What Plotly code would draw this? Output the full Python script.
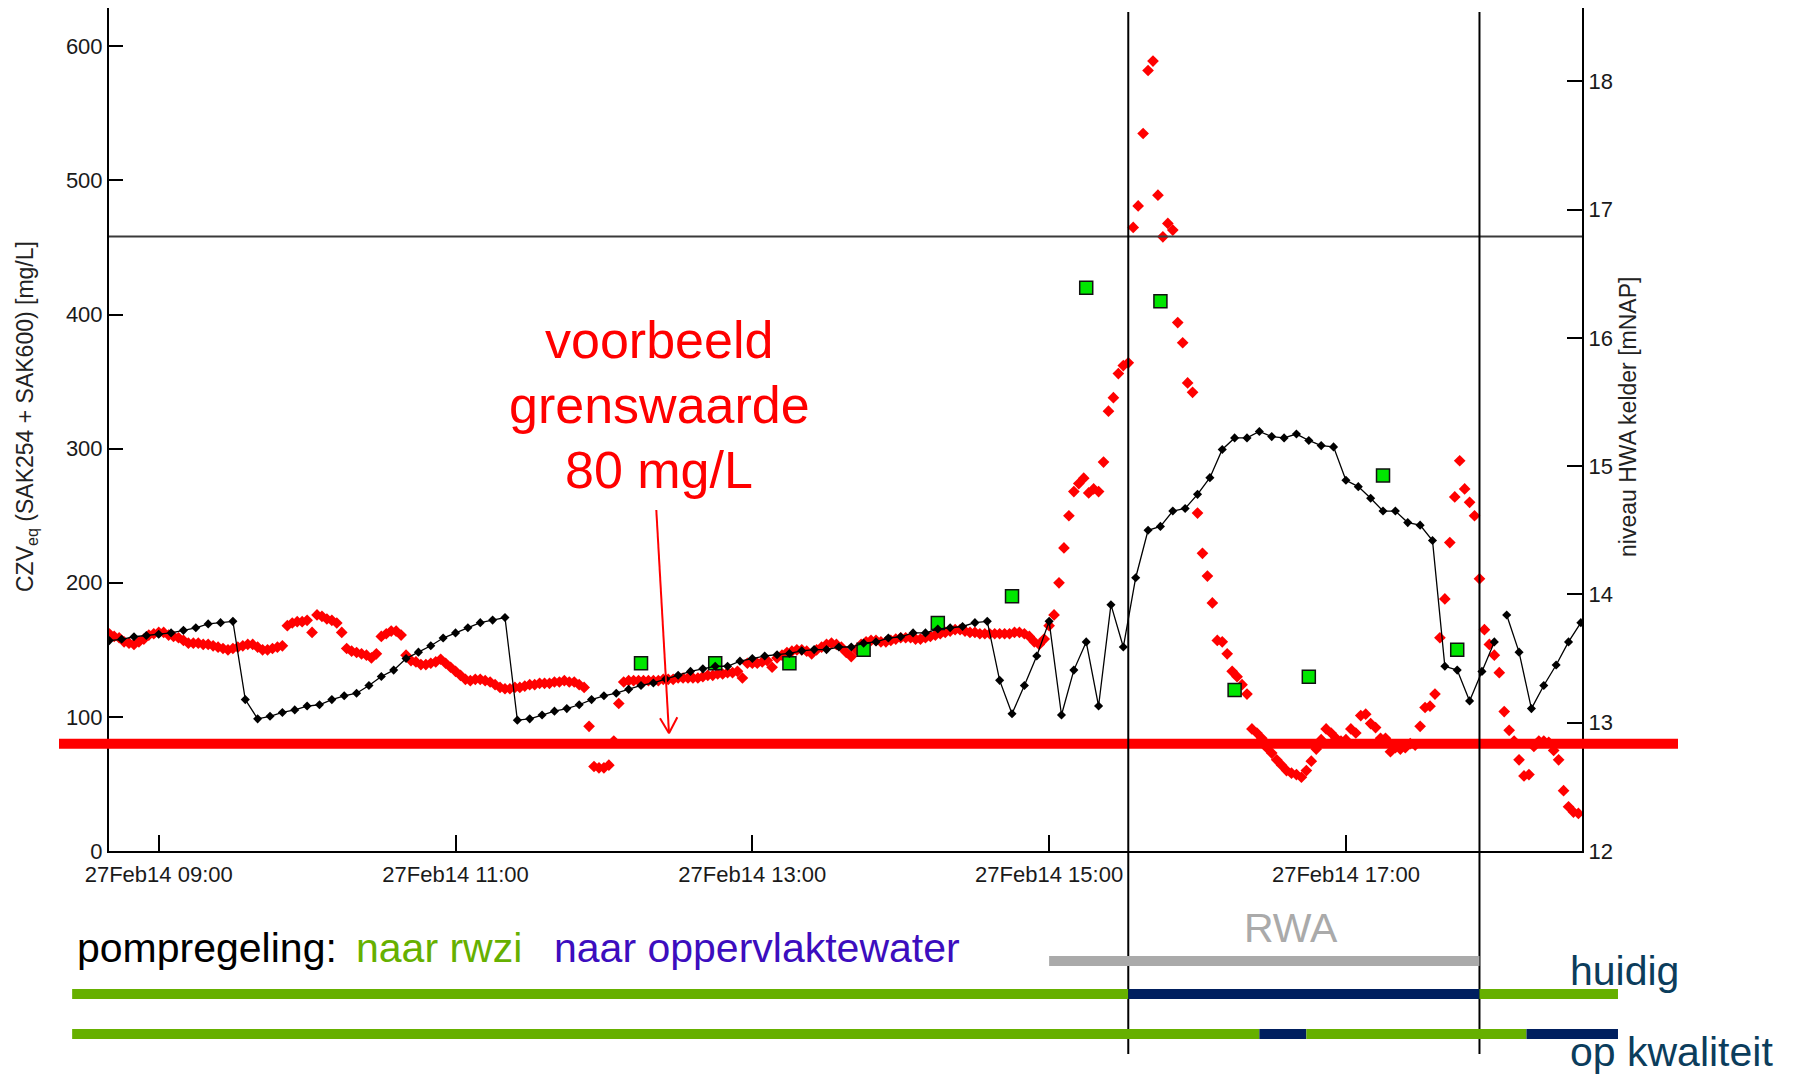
import pandas as pd
import plotly.graph_objects as go

DAG = "2014-02-27 "

# CZV-equivalent from SAK254 + SAK600 (mg/L), one reading every 2 minutes from 08:40
czv_start = DAG + "08:40"
czv_interval = "2min"
czv_mg_l = [
    162, 160, 159, 156, 155, 154, 156, 158, 161, 162, 163, 163, 161, 160, 159,
    157, 155, 155, 155, 154, 154, 153, 152, 151, 150, 151, 152, 153, 154, 154,
    152, 150, 150, 151, 152, 153, 168, 170, 171, 171, 172, 163, 176, 175, 173,
    172, 170, 163, 151, 149, 148, 147, 146, 144, 147, 160, 162, 164, 164, 161,
    146, 142, 141, 139, 139, 140, 141, 143, 140, 137, 134, 131, 128, 127, 128,
    128, 127, 126, 124, 122, 121, 121, 122, 122, 123, 124, 124, 125, 125, 125,
    126, 126, 127, 126, 126, 124, 122, 93, 63, 62, 62, 64, 82, 110, 126,
    127, 127, 127, 127, 127, 127, 127, 128, 128, 128, 129, 129, 129, 129, 129,
    130, 131, 131, 132, 132, 133, 133, 134, 129, 140, 140, 140, 141, 142, 137,
    144, 146, 148, 149, 150, 150, 149, 147, 150, 152, 154, 155, 154, 152, 148,
    145, 150, 154, 156, 157, 157, 156, 156, 157, 158, 159, 159, 159, 158, 158,
    159, 160, 161, 162, 163, 164, 165, 165, 164, 163, 163, 162, 162, 162, 162,
    162, 162, 162, 163, 163, 162, 160, 156, 154, 158, 168, 176, 200, 226, 250,
    268, 274, 278, 267, 270, 268, 290, 328, 338, 356, 362, 364, 465, 481, 535,
    582, 589, 489, 458, 468, 463, 394, 379, 349, 342, 252, 222, 205, 185, 157,
    156, 147, 134, 130, 124, 117, 91, 88, 84, 77, 73, 68, 64, 60, 58,
    57, 55, 60, 67, 76, 83, 91, 88, 84, 82, 83, 91, 88, 101, 102,
    95, 92, 84, 84, 74, 77, 76, 77, 80, 79, 93, 107, 108, 117, 159,
    188, 230, 264, 291, 270, 260, 250, 203, 165, 154, 146, 133, 104, 90, 82,
    68, 56, 57, 78, 82, 82, 81, 75, 68, 45, 33, 29, 28,
]

# level in the HWA cellar (m NAP), one reading every 5 minutes from 08:40
niveau_start = DAG + "08:40"
niveau_interval = "5min"
niveau_mnap = [
    13.64, 13.65, 13.67, 13.68, 13.69, 13.70, 13.72, 13.74, 13.77, 13.78, 13.79, 13.18,
    13.03, 13.05, 13.08, 13.10, 13.13, 13.14, 13.18, 13.21, 13.23, 13.29, 13.36, 13.41,
    13.50, 13.55, 13.60, 13.66, 13.70, 13.74, 13.78, 13.80, 13.82, 13.02, 13.03, 13.06,
    13.09, 13.11, 13.14, 13.18, 13.21, 13.23, 13.26, 13.29, 13.31, 13.34, 13.37, 13.40,
    13.42, 13.44, 13.44, 13.48, 13.50, 13.52, 13.53, 13.54, 13.56, 13.57, 13.57, 13.59,
    13.59, 13.62, 13.63, 13.66, 13.67, 13.70, 13.70, 13.73, 13.74, 13.75, 13.78, 13.79,
    13.33, 13.07, 13.29, 13.52, 13.79, 13.06, 13.41, 13.63, 13.13, 13.92, 13.59, 14.13,
    14.50, 14.53, 14.65, 14.67, 14.78, 14.91, 15.13, 15.22, 15.22, 15.27, 15.23, 15.22,
    15.25, 15.20, 15.16, 15.15, 14.89, 14.84, 14.75, 14.65, 14.65, 14.56, 14.54, 14.42,
    13.44, 13.41, 13.17, 13.40, 13.63, 13.84, 13.55, 13.11, 13.29, 13.45, 13.63, 13.78,
]
niveau_gat_na = DAG + "18:00"  # logger gap between 18:00 and 18:05

# lab samples (mg/L)
monster_tijd = ["12:15", "12:45", "13:15", "13:45", "14:15", "14:45",
                "15:15", "15:45", "16:15", "16:45", "17:15", "17:45"]
monster_czv = [140, 140, 140, 150, 170, 190, 420, 410, 120, 130, 280, 150]

grenswaarde_czv = 80          # example limit (mg/L)
niveau_drempel = 16.79        # level threshold (m NAP)
rwa_start, rwa_eind = "15:32", "17:54"
rwa_balk_start = "15:00"

# pump control: (from, to, destination)
pomp_huidig = [("08:25", "15:32", "rwzi"), ("15:32", "17:54", "opp"), ("17:54", "18:50", "rwzi")]
pomp_op_kwaliteit = [("08:25", "16:25", "rwzi"), ("16:25", "16:44", "opp"),
                     ("16:44", "18:13", "rwzi"), ("18:13", "18:50", "opp")]

x_tick_tijden = ["09:00", "11:00", "13:00", "15:00", "17:00"]
y_ticks_czv = [0, 100, 200, 300, 400, 500, 600]
y_ticks_niveau = [12, 13, 14, 15, 16, 17, 18]
x_bereik = (DAG + "08:39:54", DAG + "18:35:27")
czv_bereik = (0, 628.6)
niveau_bereik = (12, 18.571)

# ---- page geometry -------------------------------------------------------
W, H = 1796, 1075
ML, MR, MT, MB = 109, 214, 8, 224
PW, PH = W - ML - MR, H - MT - MB

KLEUR_RWZI = "#66B000"
KLEUR_OPP = "#001F5F"
FONT = "Arial, Liberation Sans, sans-serif"


def papier(px, py):
    """page pixel -> paper fraction"""
    return (px - ML) / PW, (MT + PH - py) / PH


T0, T1 = pd.Timestamp(x_bereik[0]), pd.Timestamp(x_bereik[1])


def tijd_papier(hhmm):
    return (pd.Timestamp(DAG + hhmm) - T0) / (T1 - T0)


czv_tijd = pd.date_range(czv_start, periods=len(czv_mg_l), freq=czv_interval)

niveau_tijd = list(pd.date_range(niveau_start, periods=len(niveau_mnap), freq=niveau_interval))
niveau_y = list(niveau_mnap)
k = niveau_tijd.index(pd.Timestamp(niveau_gat_na)) + 1
niveau_tijd.insert(k, niveau_tijd[k - 1] + pd.Timedelta("150s"))
niveau_y.insert(k, None)

fig = go.Figure()

fig.add_trace(go.Scatter(
    x=czv_tijd, y=czv_mg_l, mode="markers", name="CZV",
    marker=dict(symbol="diamond", size=9, color="#FF0000", line=dict(width=0)),
))
fig.add_trace(go.Scatter(
    x=niveau_tijd, y=niveau_y, mode="lines+markers", yaxis="y2", name="niveau",
    line=dict(color="#000000", width=1.3), connectgaps=False,
    marker=dict(symbol="diamond", size=7, color="#000000"),
))
fig.add_trace(go.Scatter(
    x=[DAG + t for t in monster_tijd], y=monster_czv, mode="markers", name="monsters",
    marker=dict(symbol="square", size=13, color="#00E600", line=dict(width=1.5, color="#111111")),
))

shapes = []
# level threshold
shapes.append(dict(type="line", xref="paper", yref="y2", x0=0, x1=1,
                   y0=niveau_drempel, y1=niveau_drempel,
                   line=dict(color="#3a3a3a", width=2)))
# example limit, drawn across the slide
xl, _ = papier(59, 0)
xr, _ = papier(1678, 0)
shapes.append(dict(type="line", xref="paper", yref="y", x0=xl, x1=xr,
                   y0=grenswaarde_czv, y1=grenswaarde_czv,
                   line=dict(color="#FF0000", width=10)))
# RWA period markers
_, yb = papier(0, 1054)
_, yt = papier(0, 12)
for t in (rwa_start, rwa_eind):
    shapes.append(dict(type="line", xref="x", yref="paper", x0=DAG + t, x1=DAG + t,
                       y0=yb, y1=yt, line=dict(color="#000000", width=2)))

# arrow to the limit line
a_tail = papier(656.3, 510)
a_tip = papier(669, 733.3)
a_w1 = papier(660, 718.3)
a_w2 = papier(677.3, 717.3)
for p0, p1 in ((a_tail, a_tip), (a_w1, a_tip), (a_w2, a_tip)):
    shapes.append(dict(type="line", xref="paper", yref="paper",
                       x0=p0[0], y0=p0[1], x1=p1[0], y1=p1[1],
                       line=dict(color="#FF0000", width=2)))


def balk(x0, x1, ymid_px, kleur, dikte=10):
    _, y0 = papier(0, ymid_px + dikte / 2)
    _, y1 = papier(0, ymid_px - dikte / 2)
    return dict(type="rect", xref="paper", yref="paper", x0=x0, x1=x1, y0=y0, y1=y1,
                fillcolor=kleur, line=dict(width=0), layer="above")


shapes.append(balk(tijd_papier(rwa_balk_start), tijd_papier(rwa_eind), 961, "#AAAAAA"))
for van, tot, naar in pomp_huidig:
    shapes.append(balk(tijd_papier(van), tijd_papier(tot), 994,
                       KLEUR_RWZI if naar == "rwzi" else KLEUR_OPP))
for van, tot, naar in pomp_op_kwaliteit:
    shapes.append(balk(tijd_papier(van), tijd_papier(tot), 1034,
                       KLEUR_RWZI if naar == "rwzi" else KLEUR_OPP))


def tekst(txt, px, py, size, kleur, xanchor="left", angle=0):
    x, y = papier(px, py)
    return dict(text=txt, x=x, y=y, xref="paper", yref="paper", showarrow=False,
                xanchor=xanchor, yanchor="middle", textangle=angle, borderpad=0,
                font=dict(family=FONT, size=size, color=kleur))


annotations = [
    tekst("voorbeeld", 659, 340, 52, "#FF0000", xanchor="center"),
    tekst("grenswaarde", 659, 405, 52, "#FF0000", xanchor="center"),
    tekst("80 mg/L", 659, 470, 52, "#FF0000", xanchor="center"),
    tekst("pompregeling:", 76, 948, 41, "#000000"),
    tekst("naar rwzi", 355, 948, 41, KLEUR_RWZI),
    tekst("naar oppervlaktewater", 553, 948, 41, "#3C0DBE"),
    tekst("RWA", 1291, 927.6, 41, "#AAAAAA", xanchor="center"),
    tekst("huidig", 1568.6, 970.6, 41, "#0B3D5C"),
    tekst("op kwaliteit", 1568.6, 1052.3, 41, "#0B3D5C"),
    tekst("CZV<sub>eq</sub> (SAK254 + SAK600) [mg/L]", 26, 417, 23, "#222222",
          xanchor="center", angle=-90),
    tekst("niveau HWA kelder [mNAP]", 1628, 417, 23, "#222222", xanchor="center", angle=-90),
]

as_stijl = dict(showline=True, linecolor="#000000", linewidth=2, ticks="inside",
                tickcolor="#000000", tickwidth=2, showgrid=False, zeroline=False,
                tickfont=dict(family=FONT, size=22, color="#1a1a1a"))

fig.update_layout(
    width=W, height=H,
    margin=dict(l=ML, r=MR, t=MT, b=MB, pad=0),
    paper_bgcolor="white", plot_bgcolor="white",
    showlegend=False,
    font=dict(family=FONT),
    xaxis=dict(type="date", range=list(x_bereik),
               tickvals=[DAG + t for t in x_tick_tijden], tickformat="%d%b%y %H:%M",
               ticklen=16, ticklabelstandoff=3, **as_stijl),
    yaxis=dict(range=list(czv_bereik), tickvals=y_ticks_czv, ticklen=14, **as_stijl),
    yaxis2=dict(range=list(niveau_bereik), tickvals=y_ticks_niveau, ticklen=15,
                overlaying="y", side="right", **as_stijl),
    shapes=shapes,
    annotations=annotations,
)

fig.write_html("out.html")
